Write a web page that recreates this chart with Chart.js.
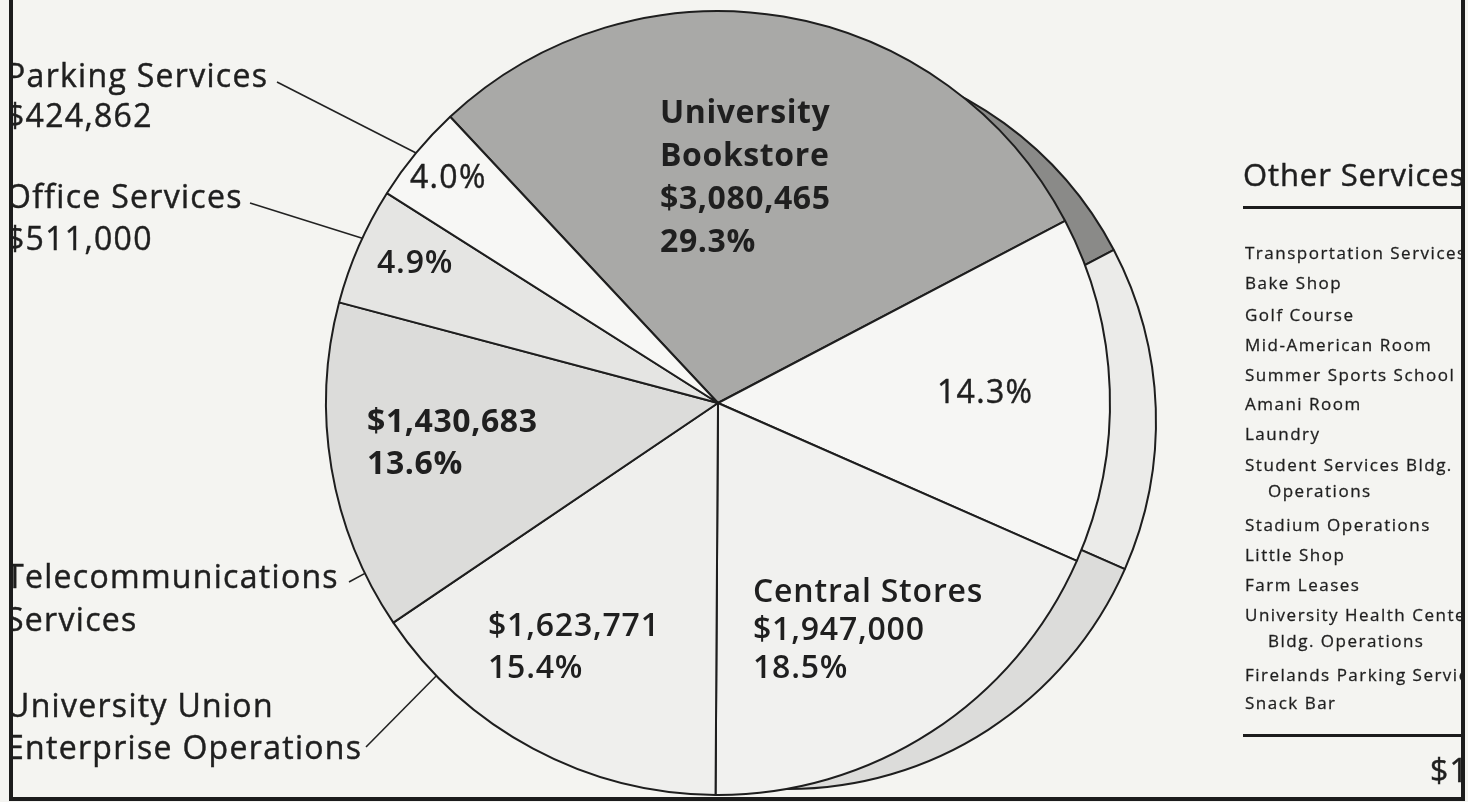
<!DOCTYPE html>
<html>
<head>
<meta charset="utf-8">
<title>Auxiliary Services revenue</title>
<script src="https://cdn.jsdelivr.net/npm/chart.js@4.4.1/dist/chart.umd.min.js"></script>
<style>
  body { margin:0; width:1468px; height:802px; background:#f4f4f1; overflow:hidden;
         font-family:"Open Sans", sans-serif; color:#1f1f1f; }
  #clip { position:absolute; left:0; top:0; width:1468px; height:802px;
          clip-path: inset(0px 7px 5px 13px); }
  .wrap { position:absolute; left:0; top:0; width:1468px; height:802px; }
  .lbl { position:absolute; white-space:nowrap; font-size:32px; line-height:42px; letter-spacing:1.3px; }
  .thin { -webkit-text-stroke: 0.45px #1f1f1f; }
  .side { position:absolute; white-space:nowrap; font-size:17px; letter-spacing:1.5px; line-height:20px;
          -webkit-text-stroke: 0.3px #1f1f1f; }
  .rule { position:absolute; background:#1c1c1c; }
</style>
</head>
<body>
<div id="clip">
  <div class="wrap"><canvas id="backChart"></canvas></div>
  <div class="wrap"><canvas id="pieChart"></canvas></div>
  <div id="labels"></div>
</div>
<div class="rule" style="left:9px;top:0;width:4px;height:801px"></div>
<div class="rule" style="left:1461px;top:0;width:4px;height:801px"></div>
<div class="rule" style="left:9px;top:797px;width:1456px;height:4px"></div>

<script>
// Revenue by service
const categories = ["University Bookstore", "Other Services", "Central Stores",
    "University Union Enterprise Operations", "Telecommunications Services",
    "Office Services", "Parking Services"];
const amounts = [3080465, 1503000, 1947000, 1623771, 1430683, 511000, 424862];
const percents = ["29.3%", "14.3%", "18.5%", "15.4%", "13.6%", "4.9%", "4.0%"];

// what "Other Services" is made of
const otherServices = ["Transportation Services", "Bake Shop", "Golf Course", "Mid-American Room",
    "Summer Sports School", "Amani Room", "Laundry", "Student Services Bldg.|Operations",
    "Stadium Operations", "Little Shop", "Farm Leases", "University Health Center|Bldg. Operations",
    "Firelands Parking Services", "Snack Bar"];

const frontColors = ["#a9a9a7", "#f6f6f4", "#f1f1ef", "#efefed", "#dcdcda", "#e5e5e3", "#f7f7f5"];
const sideColors  = ["#8a8a88", "#ebebe9", "#dcdcda", "#efefed", "#dcdcda", "#e5e5e3", "#f7f7f5"];

const fmt = v => "$" + v.toLocaleString("en-US");

// leader lines: slice index, position along the slice, text end point
const leaders = [
    { slice: 6, t: 0.5, from: [277, 82] },
    { slice: 5, t: 0.57, from: [250, 203] },
    { slice: 4, t: 0.17, from: [349, 582] },
    { slice: 3, t: 0.82, from: [366, 747] }
];

const leaderPlugin = {
    id: "leaders",
    afterDatasetsDraw(chart){
        const ctx = chart.ctx;
        const arcs = chart.getDatasetMeta(0).data;
        ctx.save();
        ctx.strokeStyle = "#222";
        ctx.lineWidth = 1.6;
        leaders.forEach(l => {
            const a = arcs[l.slice];
            const ang = a.startAngle + (a.endAngle - a.startAngle) * l.t;
            ctx.beginPath();
            ctx.moveTo(l.from[0], l.from[1]);
            ctx.lineTo(a.x + Math.cos(ang) * a.outerRadius, a.y + Math.sin(ang) * a.outerRadius);
            ctx.stroke();
        });
        ctx.restore();
    }
};

function pieOptions(pad){
    return {
        responsive: true,
        maintainAspectRatio: false,
        animation: false,
        rotation: -43.1,
        layout: { padding: pad },
        plugins: { legend: { display: false }, tooltip: { enabled: false } }
    };
}

// the visible side of the disc: a slightly smaller copy set back to the right
new Chart(document.getElementById("backChart"), {
    type: "pie",
    data: {
        labels: categories,
        datasets: [{ data: amounts, backgroundColor: sideColors, borderColor: "#1e1e1e", borderWidth: 2 }]
    },
    options: pieOptions({ left: 419, right: 311, top: 52, bottom: 12 })
});

new Chart(document.getElementById("pieChart"), {
    type: "pie",
    data: {
        labels: categories,
        datasets: [{ data: amounts, backgroundColor: frontColors, borderColor: "#1e1e1e", borderWidth: 2 }]
    },
    options: pieOptions({ left: 325, right: 357, top: 10, bottom: 6 }),
    plugins: [leaderPlugin]
});

// text blocks: x, cap centre of first line, line step
const textBlocks = [
    { x: 660, y: 111, lh: 43, w: 700, ls: 0.6, lines: ["University", "Bookstore", fmt(amounts[0]), percents[0]] },
    { x: 937, y: 392, lh: 42, w: 400, lines: [percents[1]] },
    { x: 753, y: 591, lh: 38, w: 600, ls: 0.8, lines: ["Central Stores", fmt(amounts[2]), percents[2]] },
    { x: 488, y: 625, lh: 42, w: 600, ls: 0.8, lines: [fmt(amounts[3]), percents[3]] },
    { x: 367, y: 421, lh: 42, w: 700, ls: 0.6, lines: [fmt(amounts[4]), percents[4]] },
    { x: 377, y: 262, lh: 42, w: 600, ls: 0.8, lines: [percents[5]] },
    { x: 410, y: 177, lh: 42, w: 400, lines: [percents[6]] },
    { x: 6, y: 76, lh: 40, w: 400, lines: ["Parking Services", fmt(amounts[6])] },
    { x: 6, y: 197, lh: 42, w: 400, lines: ["Office Services", fmt(amounts[5])] },
    { x: 6, y: 576, lh: 43, w: 400, lines: ["Telecommunications", "Services"] },
    { x: 6, y: 706, lh: 42, w: 400, lines: ["University Union", "Enterprise Operations"] },
    { x: 1243, y: 175, lh: 42, w: 400, size: 31, ls: 0.9, lines: ["Other Services"] },
    { x: 1430, y: 771, lh: 42, w: 400, lines: [fmt(amounts[1])] }
];

const holder = document.getElementById("labels");
textBlocks.forEach(b => {
    const d = document.createElement("div");
    d.className = b.w === 400 ? "lbl thin" : "lbl";
    d.style.left = b.x + "px";
    d.style.top = (b.y - b.lh / 2 - 1) + "px";
    d.style.lineHeight = b.lh + "px";
    d.style.fontWeight = b.w;
    if (b.size) d.style.fontSize = b.size + "px";
    if (b.ls !== undefined) d.style.letterSpacing = b.ls + "px";
    d.innerHTML = b.lines.join("<br>");
    holder.appendChild(d);
});

// list of other services
const listY = [254, 284, 316, 346, 376, 405, 435, 466, 526, 556, 586, 616, 676, 704];
otherServices.forEach((name, i) => {
    const parts = name.split("|");
    parts.forEach((p, j) => {
        const d = document.createElement("div");
        d.className = "side";
        d.style.left = (j ? 1268 : 1245) + "px";
        d.style.top = (listY[i] + j * 25.5 - 11) + "px";
        d.textContent = p;
        holder.appendChild(d);
    });
});

[207, 735].forEach(y => {
    const r = document.createElement("div");
    r.className = "rule";
    r.style.left = "1243px";
    r.style.top = (y - 1) + "px";
    r.style.width = "230px";
    r.style.height = "3px";
    holder.appendChild(r);
});
</script>
</body>
</html>
